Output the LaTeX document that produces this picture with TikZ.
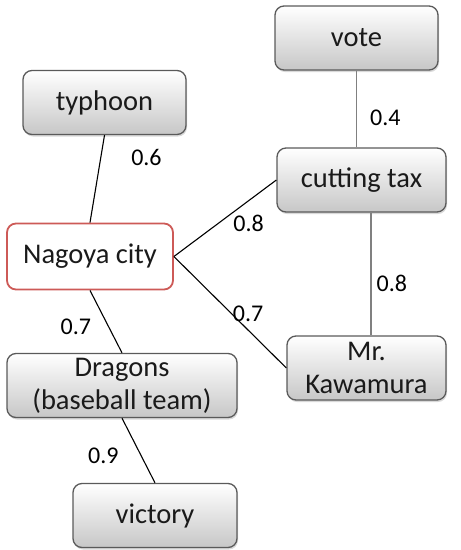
\documentclass[tikz,border=0pt]{standalone}
\usepackage{fontspec}
\setmainfont{Carlito}
\usetikzlibrary{positioning, shadows}

\definecolor{boxline}{HTML}{5A5A5A}
\definecolor{cityline}{HTML}{CD5A57}
\definecolor{textgray}{HTML}{1A1A1A}

\tikzset{
	topic/.style={rectangle, rounded corners=9pt, draw=boxline, line width=1.3pt,
		top color=white, bottom color=black!22, text=textgray, align=center,
		font=\fontsize{28.5}{33}\selectfont, inner sep=0pt, minimum height=64pt,
		drop shadow={shadow xshift=1pt, shadow yshift=-2pt, opacity=.3}},
	center/.style={rectangle, rounded corners=9pt, draw=cityline, line width=1.8pt,
		fill=white, text=textgray, font=\fontsize{28.5}{33}\selectfont,
		inner sep=0pt, minimum height=66pt, minimum width=166pt},
	weight/.style={font=\fontsize{24}{26}\selectfont, inner sep=0pt},
	link/.style={line width=1.1pt},
	vlink/.style={line width=1.3pt, draw=gray}
}

\begin{document}
\begin{tikzpicture}[x=1pt, y=-1pt]
	\useasboundingbox (0,0) rectangle (461,550);
	
	%nodes
	\node (nagoya) [center] at (90,256.5) {Nagoya city};
	\node (typhoon) [topic, minimum width=163pt] at (104.5,102.5) {typhoon};
	\node (vote) [topic, minimum width=163pt] at (356.5,38) {vote};
	\node (cut) [topic, minimum width=169pt] at (361.5,180) {cutting tax};
	\node (kawa) [topic, minimum width=159pt] at (366.5,368) {Mr.\\Kawamura};
	\node (dragons) [topic, minimum width=230pt] at (122,385.5) {Dragons\\(baseball team)};
	\node (victory) [topic, minimum width=164pt] at (155,515.5) {victory};
	
	%edges
	\path[link]
	(typhoon.south) edge node[weight, pos=.26, right=30pt] {0.6} (nagoya.north)
	(nagoya.east) edge node[weight, pos=.73, below=14pt] {0.8} (cut.west)
	(nagoya.east) edge node[weight, pos=.66, yshift=16pt] {0.7} (kawa.west)
	(nagoya.south) edge node[weight, pos=.58, left=17pt] {0.7} (dragons.north)
	(dragons.south) edge node[weight, pos=.58, left=22pt] {0.9} (victory.north);
	
	\path[vlink]
	(vote.south) edge node[weight, pos=.62, right=13pt, text=black] {0.4} (vote.south |- cut.north)
	([xshift=9.5pt]cut.south) edge node[weight, pos=.58, right=5pt, text=black] {0.8} ([xshift=9.5pt]cut.south |- kawa.north);
	
\end{tikzpicture}
\end{document}
